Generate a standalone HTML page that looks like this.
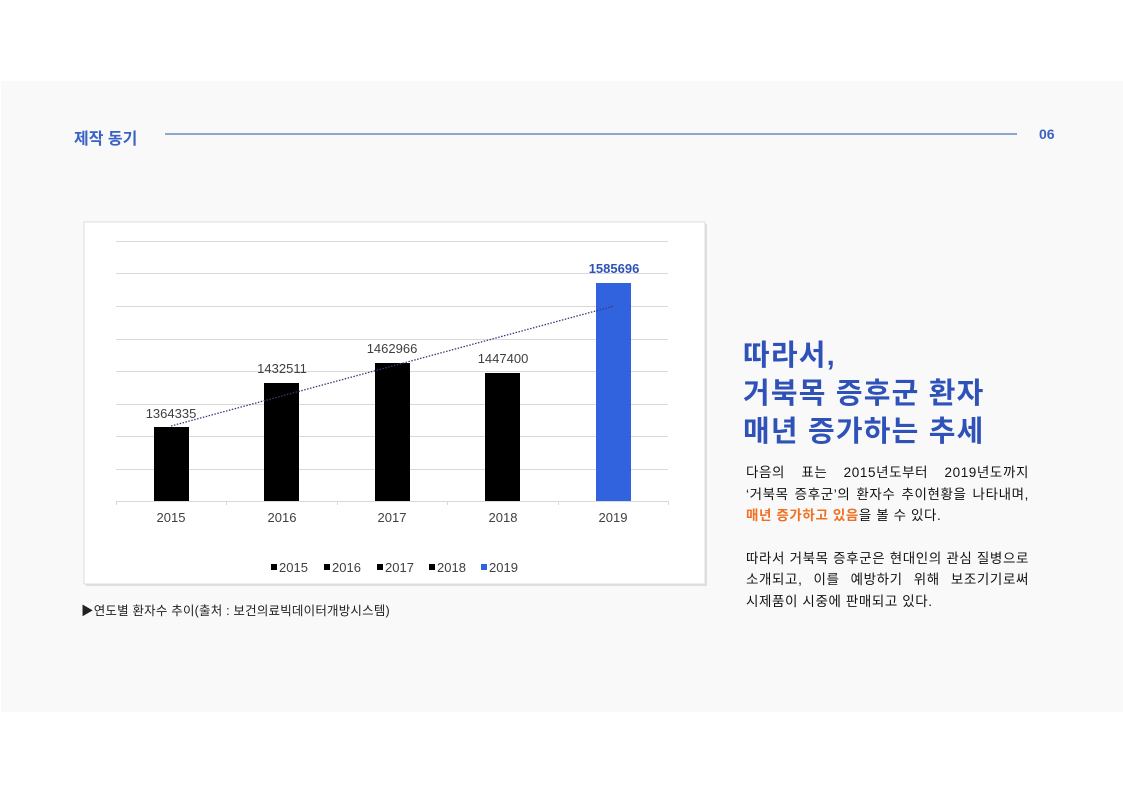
<!DOCTYPE html>
<html><head><meta charset="utf-8"><style>
body{margin:0;width:1123px;height:793px;background:#fff;position:relative;overflow:hidden;font-family:"Liberation Sans","Noto Sans CJK KR",sans-serif}
.slide{position:absolute;left:1px;top:81px;width:1122px;height:631px;background:#f9f9fa}
.t{position:absolute;white-space:nowrap}
.j{width:283px;text-align:justify;text-align-last:justify}
</style></head><body>
<div class="slide"></div>
<div class="t" style="left:74px;top:125px;font-size:16px;font-weight:bold;color:#3a62c4">제작 동기</div>
<div style="position:absolute;left:165px;top:133px;width:852px;height:2px;background:#8fa7d0"></div>
<div class="t" style="left:1039px;top:126px;font-size:14px;font-weight:bold;color:#3a62c4">06</div>

<svg style="position:absolute;left:0;top:0" width="1123" height="793">
<rect x="86" y="224" width="621" height="362" fill="#ccc" opacity="0.6"/>
<rect x="84" y="222" width="621" height="362" fill="#fff" stroke="#ddd"/>
<g stroke="#d9d9d9" stroke-width="1">
<line x1="116" x2="668" y1="241.5" y2="241.5"/><line x1="116" x2="668" y1="273.5" y2="273.5"/>
<line x1="116" x2="668" y1="306.5" y2="306.5"/><line x1="116" x2="668" y1="339.5" y2="339.5"/>
<line x1="116" x2="668" y1="371.5" y2="371.5"/><line x1="116" x2="668" y1="404.5" y2="404.5"/>
<line x1="116" x2="668" y1="436.5" y2="436.5"/><line x1="116" x2="668" y1="469.5" y2="469.5"/>
<line x1="116" x2="668" y1="501.5" y2="501.5"/>
<line x1="116.5" x2="116.5" y1="501" y2="505"/><line x1="226.5" x2="226.5" y1="501" y2="505"/>
<line x1="337.5" x2="337.5" y1="501" y2="505"/><line x1="447.5" x2="447.5" y1="501" y2="505"/>
<line x1="558.5" x2="558.5" y1="501" y2="505"/><line x1="668.5" x2="668.5" y1="501" y2="505"/>
</g>
<rect x="154" y="427" width="35" height="74" fill="#000"/>
<rect x="264" y="383" width="35" height="118" fill="#000"/>
<rect x="375" y="363" width="35" height="138" fill="#000"/>
<rect x="485" y="373" width="35" height="128" fill="#000"/>
<rect x="596" y="283" width="35" height="218" fill="#3263de"/>
<line x1="171" y1="426" x2="614" y2="306" stroke="#3a3a7a" stroke-width="1.3" stroke-dasharray="1.5,1.5"/>
<g font-size="13" fill="#404040" text-anchor="middle" font-family="Liberation Sans,sans-serif">
<text x="171" y="418">1364335</text><text x="282" y="373">1432511</text>
<text x="392" y="353">1462966</text><text x="503" y="363">1447400</text>
<text x="614" y="273" fill="#2f52b8" font-weight="bold">1585696</text>
<text x="171" y="522">2015</text><text x="282" y="522">2016</text><text x="392" y="522">2017</text>
<text x="503" y="522">2018</text><text x="613" y="522">2019</text>
</g>
<g font-size="13" fill="#404040" font-family="Liberation Sans,sans-serif">
<rect x="271" y="564" width="6" height="6" fill="#000"/><text x="279" y="572">2015</text>
<rect x="324" y="564" width="6" height="6" fill="#000"/><text x="332" y="572">2016</text>
<rect x="377" y="564" width="6" height="6" fill="#000"/><text x="385" y="572">2017</text>
<rect x="429" y="564" width="6" height="6" fill="#000"/><text x="437" y="572">2018</text>
<rect x="481" y="564" width="6" height="6" fill="#3263de"/><text x="489" y="572">2019</text>
</g>
</svg>
<div class="t" style="left:81px;top:600px;font-size:12.5px;letter-spacing:0.2px;color:#222">▶연도별 환자수 추이(출처 : 보건의료빅데이터개방시스템)</div>

<div class="t" style="left:743px;top:337px;font-size:29px;letter-spacing:1.2px;font-weight:bold;color:#2f52b8;line-height:38px">따라서,<br>거북목 증후군 환자<br>매년 증가하는 추세</div>
<div class="t" style="left:746px;top:462px;font-size:13.5px;letter-spacing:0.6px;color:#111;line-height:21.5px">
<div class="j">다음의 표는 2015년도부터 2019년도까지</div>
<div class="j">‘거북목 증후군’의 환자수 추이현황을 나타내며,</div>
<div><span style="color:#f07020;font-weight:bold">매년 증가하고 있음</span>을 볼 수 있다.</div>
<div style="height:21px"></div>
<div class="j">따라서 거북목 증후군은 현대인의 관심 질병으로</div>
<div class="j">소개되고, 이를 예방하기 위해 보조기기로써</div>
<div>시제품이 시중에 판매되고 있다.</div>
</div>
</body></html>
